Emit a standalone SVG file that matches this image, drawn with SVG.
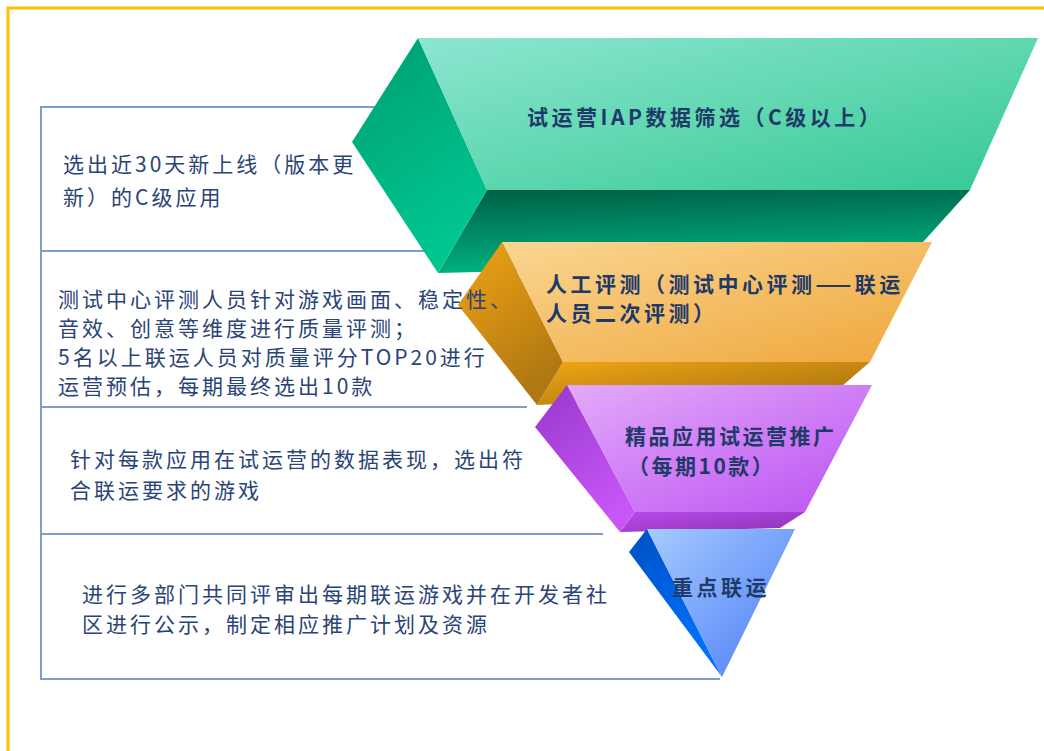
<svg xmlns="http://www.w3.org/2000/svg" width="1044" height="751" viewBox="0 0 1044 751">
<style>
.frame{fill:none;stroke:#FFC000;stroke-width:3}
.conn{fill:none;stroke:#7F9DCB;stroke-width:2}
.desc{font-family:"Noto Sans CJK SC","Noto Sans",sans-serif;font-size:21px;fill:#2A4477;letter-spacing:3px}
.lab{font-family:"Noto Sans CJK SC","Noto Sans",sans-serif;font-size:21px;font-weight:700;fill:#1F3A68;letter-spacing:3.5px}
</style>
<defs>
<linearGradient id="gF" x1="0" y1="0" x2="1" y2="1"><stop offset="0" stop-color="#8DE6D0"/><stop offset="1" stop-color="#34C893"/></linearGradient>
<linearGradient id="gL" x1="0" y1="0" x2="0.4" y2="1"><stop offset="0" stop-color="#009E70"/><stop offset="1" stop-color="#00C690"/></linearGradient>
<linearGradient id="gB" x1="0" y1="0" x2="0.2" y2="1"><stop offset="0" stop-color="#005E44"/><stop offset="1" stop-color="#00B382"/></linearGradient>
<linearGradient id="oF" x1="0" y1="0" x2="1" y2="1"><stop offset="0" stop-color="#FAD692"/><stop offset="1" stop-color="#EFA63A"/></linearGradient>
<linearGradient id="oL" x1="0" y1="0" x2="0.5" y2="1"><stop offset="0" stop-color="#F0A414"/><stop offset="1" stop-color="#B07812"/></linearGradient>
<linearGradient id="oB" x1="0" y1="0" x2="1" y2="1"><stop offset="0" stop-color="#F0A614"/><stop offset="1" stop-color="#9E6C10"/></linearGradient>
<linearGradient id="pF" x1="0" y1="0" x2="1" y2="1"><stop offset="0" stop-color="#E3AAFA"/><stop offset="1" stop-color="#BC52F2"/></linearGradient>
<linearGradient id="pL" x1="0" y1="0" x2="0.5" y2="1"><stop offset="0" stop-color="#9838CC"/><stop offset="1" stop-color="#C656F6"/></linearGradient>
<linearGradient id="pB" x1="0" y1="0" x2="1" y2="1"><stop offset="0" stop-color="#BA4AEA"/><stop offset="1" stop-color="#8C34B6"/></linearGradient>
<linearGradient id="bF" x1="0" y1="0" x2="1" y2="1"><stop offset="0" stop-color="#A6CAFF"/><stop offset="1" stop-color="#4A7CF4"/></linearGradient>
<linearGradient id="bL" x1="0" y1="0" x2="0.5" y2="1"><stop offset="0" stop-color="#0050C4"/><stop offset="1" stop-color="#0072FF"/></linearGradient>
</defs>
<rect width="1044" height="751" fill="#FFFFFF"/>
<path class="frame" d="M8,760 V8 H1060"/>
<g id="connectors">
<path class="conn" d="M380,107 H41 V679 H720"/>
<path class="conn" d="M41,251 H430"/>
<path class="conn" d="M41,407 H527"/>
<path class="conn" d="M41,534 H603"/>
</g>
<g id="stage1">
<polygon points="487,190 970,190 905,262 438,273" fill="url(#gB)"/>
<polygon points="418,38 352,142 438,273 487,190" fill="url(#gL)"/>
<polygon points="418,38 1038,38 970,190 487,190" fill="url(#gF)"/>
<text class="lab" x="527" y="125">试运营IAP数据筛选（C级以上）</text>
</g>
<g id="stage2">
<polygon points="563,362 870,362 835,392 537,405" fill="url(#oB)"/>
<polygon points="502,242 458,305 537,405 563,362" fill="url(#oL)"/>
<polygon points="502,242 932,242 870,362 563,362" fill="url(#oF)"/>
<text class="lab" x="546" y="292">人工评测（测试中心评测——联运</text>
<text class="lab" x="546" y="321">人员二次评测）</text>
</g>
<g id="stage3">
<polygon points="635,512 805,512 780,528 620,532" fill="url(#pB)"/>
<polygon points="567,385 535,427 620,532 635,512" fill="url(#pL)"/>
<polygon points="567,385 872,385 805,512 635,512" fill="url(#pF)"/>
<text class="lab" x="625" y="444" style="letter-spacing:2.5px">精品应用试运营推广</text>
<text class="lab" x="628" y="474" style="letter-spacing:2.5px">（每期10款）</text>
</g>
<g id="stage4">
<polygon points="647,529 629,552 722,677" fill="url(#bL)"/>
<polygon points="647,529 795,529 722,677" fill="url(#bF)"/>
<text class="lab" x="672" y="595">重点联运</text>
</g>
<g id="desc1">
<text class="desc" x="63" y="172">选出近30天新上线（版本更</text>
<text class="desc" x="63" y="205">新）的C级应用</text>
</g>
<g id="desc2">
<text class="desc" x="58" y="307">测试中心评测人员针对游戏画面、稳定性、</text>
<text class="desc" x="58" y="336">音效、创意等维度进行质量评测；</text>
<text class="desc" x="58" y="365">5名以上联运人员对质量评分TOP20进行</text>
<text class="desc" x="58" y="394">运营预估，每期最终选出10款</text>
</g>
<g id="desc3">
<text class="desc" x="70" y="467">针对每款应用在试运营的数据表现，选出符</text>
<text class="desc" x="70" y="498">合联运要求的游戏</text>
</g>
<g id="desc4">
<text class="desc" x="82" y="602">进行多部门共同评审出每期联运游戏并在开发者社</text>
<text class="desc" x="82" y="632">区进行公示，制定相应推广计划及资源</text>
</g>
</svg>
